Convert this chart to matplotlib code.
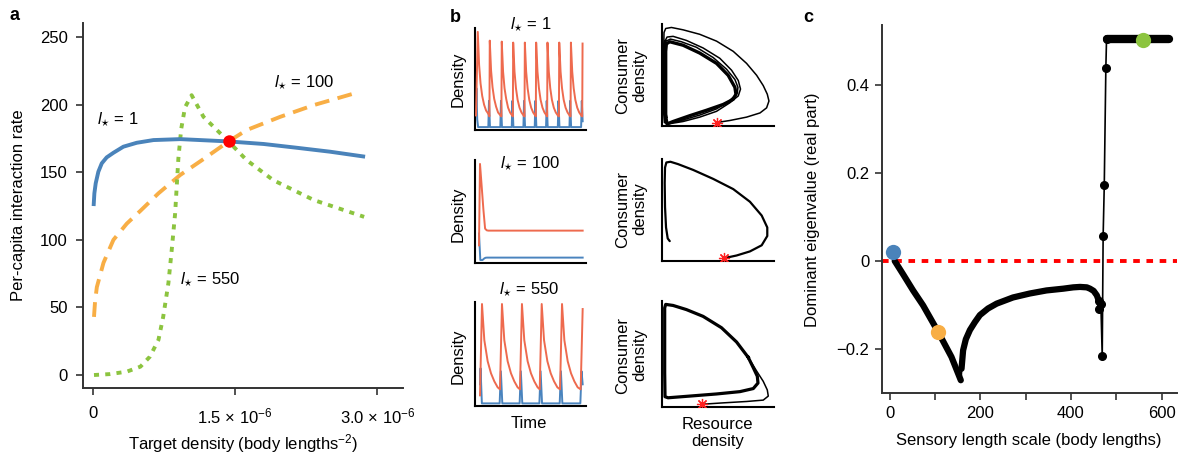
import numpy as np
import matplotlib
matplotlib.use("Agg")
import matplotlib.pyplot as plt

plt.rcParams['font.family'] = ['Liberation Sans', 'DejaVu Sans']
plt.rcParams['mathtext.fontset'] = 'custom'
plt.rcParams['mathtext.rm'] = 'Liberation Sans'
plt.rcParams['mathtext.it'] = 'Liberation Sans:italic'
plt.rcParams['mathtext.bf'] = 'Liberation Sans:bold'

# ---------------- data ----------------
# Panel a: per-capita interaction rate vs target density (x in units of 1e-6)
a_blue_x = [0.006, 0.014, 0.028, 0.056, 0.092, 0.144, 0.215, 0.32, 0.461, 0.637, 0.92,
            1.43, 1.8, 2.15, 2.5, 2.87]
a_blue_y = [125, 134.4, 141.8, 150.4, 156.6, 161, 164.4, 168.9, 171.8, 173.8, 174.5,
            172.8, 170.9, 168.1, 165.2, 161.5]
a_orange_x = [0.01, 0.021, 0.04, 0.11, 0.215, 0.356, 0.50, 0.69, 0.92, 1.15, 1.43, 1.62,
              1.975, 2.33, 2.73]
a_orange_y = [43, 54.2, 65, 83, 100, 112, 121.5, 134.4, 148, 159, 172.8, 181.2,
              191, 199.7, 207.8]
a_green_x = [0.01, 0.18, 0.356, 0.5, 0.6, 0.69, 0.74, 0.795, 0.83, 0.866, 0.90, 0.93, 0.97,
             1.04, 1.165, 1.43, 1.62, 1.9, 2.33, 2.86]
a_green_y = [0, 0.7, 2.5, 6.2, 13.6, 26, 43, 68, 92.5, 119.6, 160, 182, 198,
             207, 191, 172.7, 159, 144.2, 129.4, 117]
a_cross = (1.43, 173)
a_xticks = [0, 1.5, 3.0]
a_xticklabels = ['0', r'1.5 × 10$^{-6}$', r'3.0 × 10$^{-6}$']
a_yticks = [0, 50, 100, 150, 200, 250]

# Panel b: time series (time, density; arbitrary units)
ts1_red_t = [0.9, 2.5, 3.7, 5.0, 6.5, 8.2, 10.0, 11.8, 13.0,
             13.3, 14.5, 15.8, 17.3, 19.0, 20.8, 22.6, 23.8,
             24.1, 25.3, 26.6, 28.1, 29.8, 31.6, 33.4, 34.1,
             34.4, 35.6, 36.9, 38.4, 40.1, 41.9, 43.7, 44.6,
             44.9, 46.1, 47.4, 48.9, 50.6, 52.4, 54.2, 54.8,
             55.1, 56.3, 57.6, 59.1, 60.8, 62.6, 64.4, 65.0,
             65.3, 66.5, 67.8, 69.3, 71.0, 72.8, 74.6, 75.6,
             75.9, 77.1, 78.4, 79.9, 81.6, 83.4, 85.2, 86.1,
             86.4, 87.6, 88.9, 90.4, 92.1, 93.9, 95.7, 96.6,
             96.9]
ts1_red_d = [14, 100, 66, 47, 34, 25, 19, 16, 13,
             91, 60, 43, 31, 23, 17, 14.5, 13,
             90, 59, 42, 31, 22, 17, 14, 13,
             89, 59, 42, 30, 22, 17, 14, 13,
             89, 59, 42, 30, 22, 17, 14, 13,
             89, 59, 42, 30, 22, 17, 14, 13,
             89, 59, 42, 30, 22, 17, 14, 13,
             89, 59, 42, 30, 22, 17, 14, 13,
             89, 59, 42, 30, 22, 17, 14, 13,
             88]
ts1_blue_t = [0.9, 1.3, 2.0, 2.8, 12.0, 12.6, 13.5, 22.8, 23.4, 24.3, 33.1, 33.7, 34.6,
              43.6, 44.2, 45.1, 53.8, 54.4, 55.3, 64.0, 64.6, 65.5, 74.6, 75.2, 76.1,
              85.1, 85.7, 86.6, 95.6, 96.2, 97.0]
ts1_blue_d = [22, 42, 10, 2, 2, 29, 2, 2, 29, 2, 2, 29, 2,
              2, 29, 2, 2, 29, 2, 2, 29, 2, 2, 29, 2,
              2, 29, 2, 2, 29, 8]

ts2_red_t = [3.6, 4.5, 6.1, 7.6, 9.1, 10.6, 12.0, 97.0]
ts2_red_d = [17, 100, 76, 53, 34, 32.3, 32, 32]
ts2_blue_t = [3.6, 4.8, 6.7, 8.5, 9.7, 11.0, 97.0]
ts2_blue_d = [29, 2, 2, 3.8, 4.4, 4.5, 4.5]

ts3_red_t = [4.5, 6.3, 8.4, 11.4, 14.4, 17.4, 20.4, 22.5,
             24.3, 26.4, 29.4, 32.4, 35.4, 38.4, 40.5,
             42.3, 44.4, 47.4, 50.4, 53.4, 56.4, 58.3,
             60.1, 62.2, 65.2, 68.2, 71.2, 74.2, 76.6,
             78.4, 80.5, 83.5, 86.5, 89.5, 92.5, 95.2,
             97.0]
ts3_red_d = [9, 100, 64, 43, 31, 23, 17, 15,
             100, 64, 43, 31, 23, 17, 15,
             100, 64, 43, 31, 23, 17, 15,
             100, 64, 43, 31, 23, 17, 15,
             100, 64, 43, 31, 23, 17, 15,
             95]
ts3_blue_t = [4.5, 5.0, 6.2, 22.2, 23.3, 24.6, 40.2, 41.3, 42.6, 58.0, 59.1, 60.4,
              76.3, 77.4, 78.7, 94.9, 96.0, 97.0]
ts3_blue_d = [20, 36, 1, 1, 33, 1, 1, 33, 1, 1, 33, 1, 1, 33, 1, 1, 33, 20]

# Panel b: phase plane (resource, consumer; arbitrary units)
ph1_R = [48.7, 60.6, 75.5, 87.5, 93.4, 95.5, 94.0, 90.4, 84.5, 75.5, 63.6, 48.7, 33.7, 18.8,
         8.4, 3.3, 1.8, 1.5, 1.5, 1.5, 2.1, 5.4, 18.8, 33.7, 48.7, 60.6, 68.1, 70.1, 68.1,
         62.1, 51.6, 36.7, 21.8, 9.9, 4.5, 2.7, 2.4, 2.4, 2.7, 5.4,
         18.8, 33.7, 48.7, 60.0, 67.2, 67.8, 65.1, 57.6, 45.7, 30.7, 17.3, 7.5, 3.6, 3.0,
         3.0, 3.3, 5.4]
ph1_C = [3.4, 5.4, 8.7, 12.8, 17.8, 24.5, 31.2, 39.6, 49.7, 61.4, 73.2, 83.2, 89.9, 94.3,
         96.6, 95.6, 91.6, 76.5, 43.0, 12.8, 3.4, 2.0, 4.4, 8.7, 14.4, 22.8, 29.5, 36.2, 44.6,
         54.7, 66.4, 76.5, 83.9, 87.9, 87.2, 83.2, 59.7, 26.2, 4.4, 2.7,
         6.0, 10.7, 16.8, 24.5, 32.2, 37.9, 45.6, 55.7, 67.1, 77.2, 82.6, 85.2, 83.2, 59.7,
         26.2, 5.4, 2.3]
ph1_cyc_R = [3.3, 3.3, 3.3, 3.9, 6.9, 18.8, 33.7, 48.7, 59.1, 65.1, 66.0, 63.6, 54.6, 39.7,
             24.8, 9.9, 4.5, 3.3]
ph1_cyc_C = [9.4, 43.0, 73.2, 80.5, 82.6, 79.2, 71.5, 61.4, 49.7, 37.9, 31.2, 26.2, 21.1, 15.4,
             10.1, 4.4, 2.0, 9.4]
ph2_R = [55.2, 66.6, 78.5, 89.0, 94.0, 94.0, 89.0, 78.5, 63.6, 45.7, 27.8, 14.3, 7.5, 3.9,
         2.7, 2.4, 2.7, 3.6, 5.1, 6.9]
ph2_C = [2.7, 5.4, 9.4, 15.4, 24.5, 32.9, 44.6, 58.1, 70.5, 80.5, 89.3, 95.0, 97.3, 96.6,
         91.6, 76.5, 53.0, 32.9, 22.1, 19.5]
ph3_R = [35.8, 54.6, 75.5, 90.4, 94.9, 94.0, 90.4, 84.5, 77.0]
ph3_C = [2.6, 3.9, 5.2, 6.5, 10.3, 16.1, 24.2, 33.9, 46.8]
ph3_cyc_R = [77.0, 66.6, 53.1, 36.7, 21.8, 9.9, 3.3, 2.4, 2.4, 2.4, 2.7, 5.4, 24.8, 48.7,
             69.6, 81.5, 85.7, 85.1, 81.5, 77.0]
ph3_cyc_C = [46.8, 61.3, 74.8, 85.5, 91.9, 95.8, 96.8, 93.5, 64.5, 32.3, 9.7, 8.7, 10.3, 12.3,
             14.5, 17.4, 22.6, 29.0, 37.1, 46.8]
ph_start = [(48.7, 3.4), (55.2, 2.7), (35.8, 2.6)]
b_titles = [r'$l_{\star}$ = 1', r'$l_{\star}$ = 100', r'$l_{\star}$ = 550']

# Panel c: dominant eigenvalue vs sensory length scale
c_desc_l = [11, 30, 51.6, 73.7, 106.8, 136.3, 156.9]
c_desc_y = [0.0, -0.031, -0.067, -0.101, -0.161, -0.218, -0.271]
c_link_l = [156.9, 158.5]
c_link_y = [-0.271, -0.245]
c_rise_l = [158.5, 162, 168, 177, 188, 199, 217, 236, 272, 309, 346, 383, 405, 420, 435,
            442, 450, 457, 462]
c_rise_y = [-0.245, -0.203, -0.178, -0.157, -0.139, -0.123, -0.108, -0.097, -0.083, -0.074,
            -0.067, -0.063, -0.060, -0.059, -0.060, -0.063, -0.068, -0.078, -0.092]
c_jump_l = [462, 462.6, 466, 469, 471, 473.5, 477, 478.5]
c_jump_y = [-0.092, -0.110, -0.097, -0.217, 0.057, 0.172, 0.439, 0.504]
c_top_l = [478.5, 617]
c_top_y = [0.504, 0.504]
c_dot_l = [7, 107, 560]
c_dot_y = [0.020, -0.161, 0.503]
c_xticks = [0, 100, 200, 300, 400, 500, 600]
c_xticklabels = ['0', '', '200', '', '400', '', '600']
c_yticks = [-0.2, 0, 0.2, 0.4]
c_yticklabels = ['\u22120.2', '0', '0.2', '0.4']

# ---------------- styling ----------------
BLUE = '#4A83BA'
ORANGE = '#F8AE45'
GREEN = '#8CC43F'
TS_RED = '#EE6A4E'
TS_BLUE = '#4A84BE'
SPINE = '#333333'
FS = 12

W, H = 1182, 454
fig = plt.figure(figsize=(W / 100, H / 100), dpi=100)


def ax_px(l, t, r, b):
    return fig.add_axes([l / W, 1 - b / H, (r - l) / W, (b - t) / H])


def txt(x, y, s, **kw):
    fig.text(x / W, 1 - y / H, s, **kw)


def style_spines(ax, color=SPINE, lw=1.4):
    for s in ['top', 'right']:
        ax.spines[s].set_visible(False)
    for s in ['left', 'bottom']:
        ax.spines[s].set_color(color)
        ax.spines[s].set_linewidth(lw)


# ---------- panel a ----------
ax = ax_px(83, 23, 403, 388)
style_spines(ax)
ax.plot(a_blue_x, a_blue_y, color=BLUE, lw=2.8, solid_capstyle='butt',
        solid_joinstyle='round', zorder=3)
ax.plot(a_orange_x, a_orange_y, color=ORANGE, lw=2.8, dashes=(3.8, 2.2), zorder=2)
ax.plot(a_green_x, a_green_y, color=GREEN, lw=2.8, dashes=(1.3, 1.6), zorder=2)
ax.plot([a_cross[0]], [a_cross[1]], 'o', color='#FF0000', ms=9, mec='none', zorder=5)
ax.set_xlim(-0.106, 3.27)
ax.set_ylim(-9.6, 260.4)
ax.set_xticks(a_xticks)
ax.set_xticklabels(a_xticklabels)
ax.set_yticks(a_yticks)
ax.tick_params(direction='out', length=5, width=1.2, color=SPINE, labelsize=FS, pad=6)
ax.tick_params(axis='x', pad=8)
ax.text(0.042, 188.6, r'$l_{\star}$ = 1', fontsize=FS, va='center', ha='left')
ax.text(1.91, 216, r'$l_{\star}$ = 100', fontsize=FS, va='center', ha='left')
ax.text(0.92, 70.3, r'$l_{\star}$ = 550', fontsize=FS, va='center', ha='left')
txt(18.5, 205.5, 'Per-capita interaction rate', rotation=90, ha='center', va='center', fontsize=FS)
txt(243, 444, r'Target density (body lengths$^{-2}$)', ha='center', va='center', fontsize=FS)
txt(15, 16, 'a', fontsize=13, fontweight='bold', ha='center', va='center')

# ---------- panel b ----------
ts_rows = [(28, 130), (160, 263), (302, 406)]
ph_rows = [(24, 126), (159, 261), (301, 407)]
ts_data = [(ts1_red_t, ts1_red_d, ts1_blue_t, ts1_blue_d, (-1, 104)),
           (ts2_red_t, ts2_red_d, ts2_blue_t, ts2_blue_d, (-1, 104)),
           (ts3_red_t, ts3_red_d, ts3_blue_t, ts3_blue_d, (-1.6, 102))]
title_pos = [(531, 25), (530, 164), (529, 290)]
dens_y = [79.5, 214, 356]
cons_y = [76, 209, 355]
for i in range(3):
    t0, b0 = ts_rows[i]
    axt = ax_px(475, t0, 586, b0)
    style_spines(axt, color='black', lw=1.5)
    rt, rd, bt, bd, yl = ts_data[i]
    axt.plot(bt, bd, color=TS_BLUE, lw=1.4, zorder=2)
    axt.plot(rt, rd, color=TS_RED, lw=1.4, zorder=3)
    axt.set_xlim(0, 100)
    axt.set_ylim(*yl)
    axt.set_xticks([])
    axt.set_yticks([])
    txt(title_pos[i][0], title_pos[i][1], b_titles[i], ha='center', va='center', fontsize=FS)
    txt(458, dens_y[i], 'Density', rotation=90, ha='center', va='center', fontsize=FS)

    t1, b1 = ph_rows[i]
    axp = ax_px(662, t1, 774, b1)
    style_spines(axp, color='black', lw=1.5)
    if i == 0:
        axp.plot(ph1_R, ph1_C, color='black', lw=1.1, zorder=2)
        axp.plot(ph1_cyc_R, ph1_cyc_C, color='black', lw=2.4, zorder=2)
    elif i == 1:
        axp.plot(ph2_R, ph2_C, color='black', lw=1.6, zorder=2, solid_capstyle='round')
    else:
        axp.plot(ph3_R, ph3_C, color='black', lw=1.1, zorder=2)
        axp.plot(ph3_cyc_R, ph3_cyc_C, color='black', lw=2.3, zorder=2)
    sx, sy = ph_start[i]
    axp.plot([sx], [sy], marker=(8, 2, 0), color='#FF2020', ms=8, mew=0.9, zorder=4)
    axp.set_xlim(0, 100)
    axp.set_ylim(0, 100)
    axp.set_xticks([])
    axp.set_yticks([])
    txt(631, cons_y[i], 'Consumer\ndensity', rotation=90, ha='center', va='center',
        fontsize=FS, multialignment='center', linespacing=1.15)

txt(529, 423, 'Time', ha='center', va='center', fontsize=FS)
txt(717.5, 433, 'Resource\ndensity', ha='center', va='center', fontsize=FS,
    multialignment='center', linespacing=1.15)
txt(455, 17, 'b', fontsize=13, fontweight='bold', ha='center', va='center')

# ---------- panel c ----------
axc = ax_px(882, 25, 1177, 393)
style_spines(axc)
axc.axhline(0, color='#FF0000', lw=2.8, dashes=(1.7, 1.7), zorder=1)
axc.plot(c_desc_l, c_desc_y, color='black', lw=4.5, solid_capstyle='round', zorder=2)
axc.plot(c_link_l, c_link_y, color='black', lw=1.5, zorder=2)
axc.plot(c_rise_l, c_rise_y, color='black', lw=4.5, solid_capstyle='round',
         solid_joinstyle='round', zorder=2)
axc.plot(c_jump_l, c_jump_y, color='black', lw=1.2, marker='o', ms=5.5, zorder=2)
axc.plot(c_top_l, c_top_y, color='black', lw=6, solid_capstyle='round', zorder=2)
for lx, ly, col in zip(c_dot_l, c_dot_y, [BLUE, ORANGE, GREEN]):
    axc.plot([lx], [ly], 'o', color=col, ms=11, mec='none', zorder=5)
axc.set_xlim(-17, 634)
axc.set_ylim(-0.30, 0.536)
axc.set_xticks(c_xticks)
axc.set_xticklabels(c_xticklabels)
axc.set_yticks(c_yticks)
axc.set_yticklabels(c_yticklabels)
axc.tick_params(direction='out', length=5, width=1.2, color=SPINE, labelsize=FS, pad=4)
txt(813, 210, 'Dominant eigenvalue (real part)', rotation=90, ha='center', va='center', fontsize=FS)
txt(1029, 441, 'Sensory length scale (body lengths)', ha='center', va='center', fontsize=FS)
txt(808, 17, 'c', fontsize=13, fontweight='bold', ha='center', va='center')

fig.savefig('out.png', dpi=100)
